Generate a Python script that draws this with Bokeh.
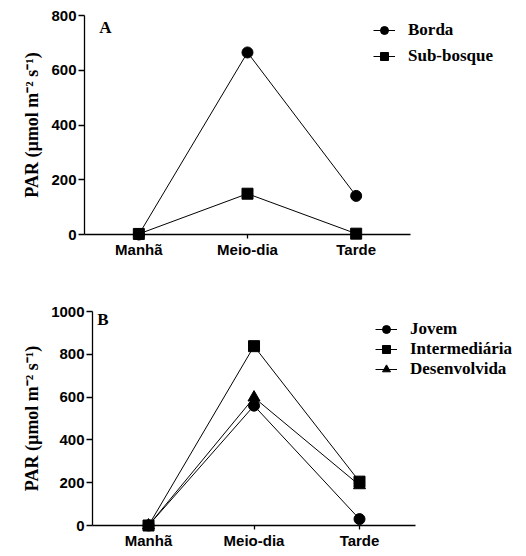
from bokeh.plotting import figure
from bokeh.layouts import column, row, Spacer
from bokeh.models import (Range1d, FixedTicker, Legend, LegendItem, Label, ColumnDataSource)
from bokeh.embed import file_html
from bokeh.resources import INLINE

periods = ["Manhã", "Meio-dia", "Tarde"]

# Panel A
borda = [0, 665, 141]
sub_bosque = [2, 149, 3]
ticks_a = [0, 200, 400, 600, 800]

# Panel B
jovem = [0, 560, 30]
intermediaria = [0, 838, 205]
desenvolvida = [0, 598, 188]
ticks_b = [0, 200, 400, 600, 800, 1000]

AXIS_LABEL = "PAR (µmol m⁻² s⁻¹)"
TICK_FONT = "Liberation Sans"
SERIF = "Liberation Serif"
pos = list(range(len(periods)))


def style(p, ticks, title_standoff, left_bound, right_bound):
    p.outline_line_color = None
    p.xgrid.grid_line_color = None
    p.ygrid.grid_line_color = None
    p.yaxis.ticker = FixedTicker(ticks=ticks)
    p.xaxis.ticker = FixedTicker(ticks=pos)
    p.xaxis.major_label_overrides = {i: name for i, name in zip(pos, periods)}
    p.xaxis.bounds = (left_bound, right_bound)
    p.yaxis.minor_tick_line_color = None
    p.xaxis.minor_tick_line_color = None
    for ax in (p.xaxis[0], p.yaxis[0]):
        ax.axis_line_color = "black"
        ax.axis_line_width = 1.3
        ax.major_tick_line_color = "black"
        ax.major_tick_line_width = 1.3
        ax.major_tick_in = 0
        ax.major_label_text_font = TICK_FONT
        ax.major_label_text_font_style = "bold"
        ax.major_label_text_font_size = "15px"
        ax.major_label_text_color = "black"
    p.yaxis.major_tick_out = 6
    p.yaxis.major_label_standoff = 2
    p.xaxis.major_tick_out = 4
    p.xaxis.major_label_standoff = 2
    p.yaxis.axis_label = AXIS_LABEL
    p.yaxis.axis_label_text_font = SERIF
    p.yaxis.axis_label_text_font_style = "bold"
    p.yaxis.axis_label_text_font_size = "18px"
    p.yaxis.axis_label_text_color = "black"
    p.yaxis.axis_label_standoff = title_standoff


def series(p, values, marker, size, label):
    src = ColumnDataSource(dict(x=pos, y=values))
    r1 = p.line("x", "y", source=src, line_color="black", line_width=1)
    r2 = p.scatter("x", "y", source=src, marker=marker, size=size,
                   fill_color="black", line_color="black")
    r1.level = "overlay"
    r2.level = "overlay"
    return LegendItem(label=label, renderers=[r1, r2])


def make_legend(items, loc, spacing, font_size):
    lg = Legend(items=items, location=loc)
    lg.background_fill_alpha = 0
    lg.border_line_color = None
    lg.padding = 0
    lg.margin = 0
    lg.spacing = spacing
    lg.glyph_width = 22
    lg.glyph_height = 20
    lg.label_standoff = 13
    lg.label_text_font = SERIF
    lg.label_text_font_style = "bold"
    lg.label_text_font_size = font_size
    lg.label_text_color = "black"
    return lg


# ---------- Panel A ----------
pa = figure(x_range=Range1d(-0.5, 3.494), y_range=Range1d(0, 800),
            width=518, height=260,
            min_border_left=84, min_border_right=0, min_border_top=15, min_border_bottom=26,
            output_backend="svg", toolbar_location=None)
style(pa, ticks_a, 6, -0.5, 2.5)
items_a = [series(pa, borda, "circle", 11, "Borda"),
           series(pa, sub_bosque, "square", 11, "Sub-bosque")]
pa.add_layout(make_legend(items_a, (289, 168), 6, "17px"), "center")
pa.add_layout(Label(x=-0.365, y=756, text="A", text_font=SERIF, text_font_style="bold",
                    text_font_size="17px", text_baseline="middle", text_align="left",
                    text_color="black"))

# ---------- Panel B ----------
pb = figure(x_range=Range1d(-0.531, 3.507), y_range=Range1d(0, 1000),
            width=510, height=291,
            min_border_left=84, min_border_right=0, min_border_top=51, min_border_bottom=26,
            output_backend="svg", toolbar_location=None)
style(pb, ticks_b, 6, -0.531, 2.531)
items_b = [series(pb, jovem, "circle", 11, "Jovem"),
           series(pb, intermediaria, "square", 11, "Intermediária"),
           series(pb, desenvolvida, "triangle", 12, "Desenvolvida")]
pb.add_layout(make_legend(items_b, (283, 146), 0, "17px"), "center")
pb.add_layout(Label(x=-0.486, y=964, text="B", text_font=SERIF, text_font_style="bold",
                    text_font_size="17px", text_baseline="middle", text_align="left",
                    text_color="black"))

layout = column(pa, row(Spacer(width=8), pb), spacing=0)
open("out.html", "w").write(file_html(layout, INLINE))
